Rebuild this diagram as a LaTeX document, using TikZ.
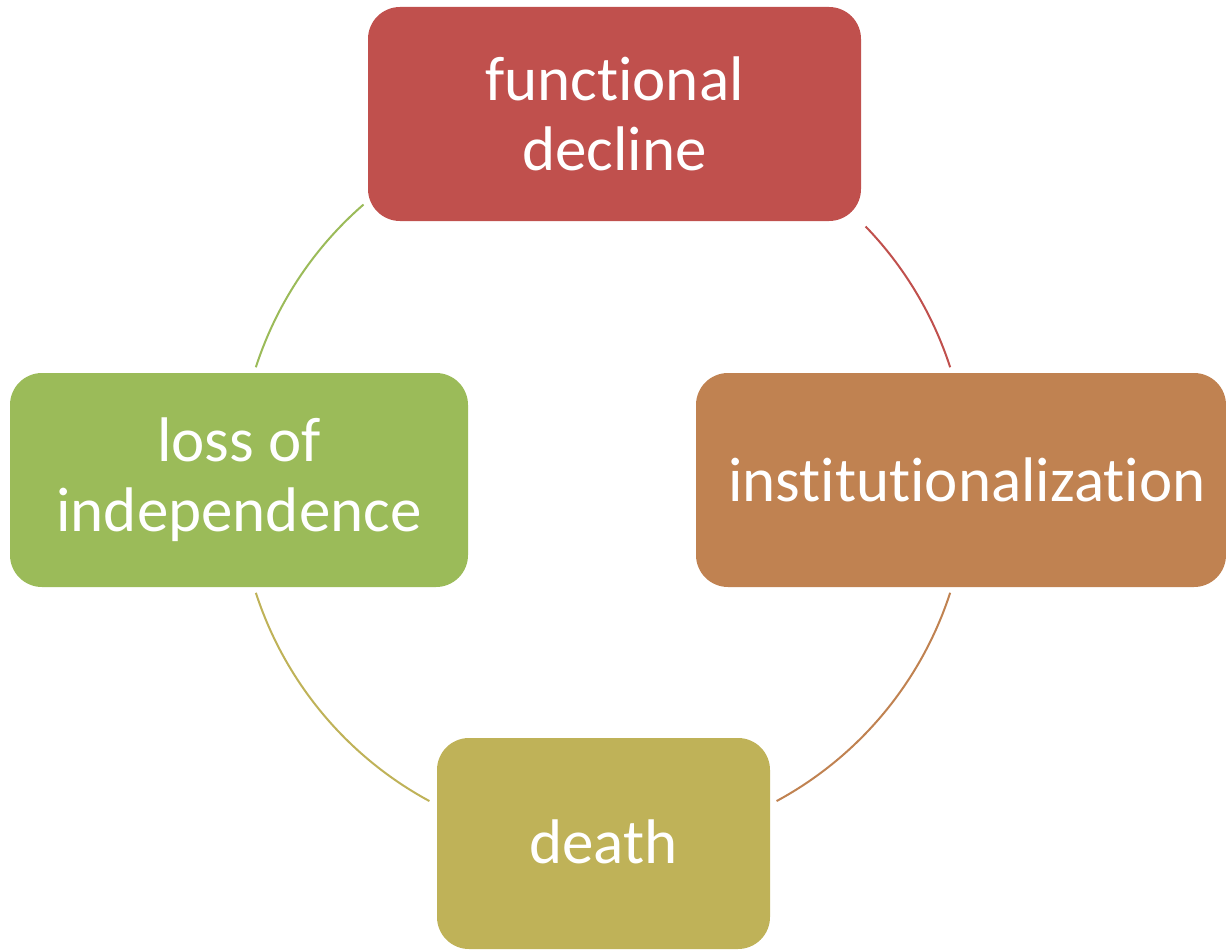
\documentclass[tikz,border=0pt]{standalone}
\usepackage{fontspec}
\setmainfont{Carlito}[Ligatures={NoCommon}]
\definecolor{cRed}{RGB}{192,80,77}
\definecolor{cBrown}{RGB}{192,130,81}
\definecolor{cOlive}{RGB}{191,178,88}
\definecolor{cGreen}{RGB}{155,187,89}
\tikzset{
  stage/.style={rounded corners=32pt, inner sep=0pt, text=white, align=center,
    font=\fontsize{63}{70}\selectfont, minimum height=214pt},
  link/.style={line width=2pt}
}
\begin{document}
\begin{tikzpicture}[x=1pt, y=-1pt]
  \useasboundingbox (0,0) rectangle (1226,950);
  \coordinate (c) at (603,480);
  % the four stages
  \node[stage, fill=cRed, minimum width=493pt] (fd) at (614.5,114) {functional\\decline};
  \node[stage, fill=cBrown, minimum width=530pt] (inst) at (961,480) {\hspace*{12pt}institutionalization};
  \node[stage, fill=cOlive, minimum width=333pt, minimum height=211pt] (death) at (603.5,843.5) {\raisebox{3pt}{death}};
  \node[stage, fill=cGreen, minimum width=458pt] (loss) at (239,480) {loss of\\independence};
  % cycle arcs between the stages
  \draw[link, cRed]   ([shift={(-44:365)}]c) arc[start angle=-44, end angle=-18, radius=365];
  \draw[link, cBrown] ([shift={(18:365)}]c) arc[start angle=18, end angle=61.6, radius=365];
  \draw[link, cOlive] ([shift={(118.4:365)}]c) arc[start angle=118.4, end angle=162, radius=365];
  \draw[link, cGreen] ([shift={(198:365)}]c) arc[start angle=198, end angle=229, radius=365];
\end{tikzpicture}
\end{document}
